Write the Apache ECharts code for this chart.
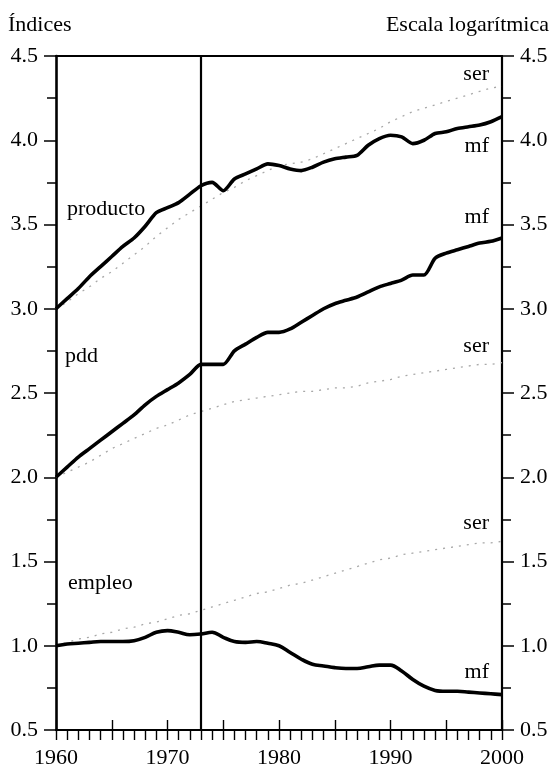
<!DOCTYPE html>
<html><head><meta charset="utf-8">
<script src="https://cdn.jsdelivr.net/npm/echarts@6/dist/echarts.min.js"></script>
<style>html,body{margin:0;padding:0;background:#fff}#c{width:552px;height:769px}</style>
</head><body><div id="c"></div>
<script>
const years = [];
for (let y = 1960; y <= 2000; y++) years.push(y);
const yTicks = [0.5, 1.0, 1.5, 2.0, 2.5, 3.0, 3.5, 4.0, 4.5];
const xTickLabels = [1960, 1970, 1980, 1990, 2000];

const productoMf = [3.00,3.06,3.12,3.19,3.25,3.31,3.37,3.42,3.49,3.57,3.60,3.63,3.68,3.73,3.75,3.70,3.77,3.80,3.83,3.86,3.85,3.83,3.82,3.84,3.87,3.89,3.90,3.91,3.97,4.01,4.03,4.02,3.98,4.00,4.04,4.05,4.07,4.08,4.09,4.11,4.14];
const productoSer = [3.00,3.04,3.09,3.13,3.18,3.22,3.27,3.32,3.37,3.43,3.48,3.53,3.57,3.61,3.65,3.69,3.72,3.76,3.79,3.82,3.85,3.86,3.87,3.89,3.92,3.95,3.98,4.01,4.04,4.07,4.11,4.14,4.17,4.19,4.21,4.23,4.25,4.27,4.29,4.31,4.32];
const pddMf = [2.00,2.06,2.12,2.17,2.22,2.27,2.32,2.37,2.43,2.48,2.52,2.56,2.61,2.67,2.67,2.67,2.75,2.79,2.83,2.86,2.86,2.88,2.92,2.96,3.00,3.03,3.05,3.07,3.10,3.13,3.15,3.17,3.20,3.20,3.30,3.33,3.35,3.37,3.39,3.40,3.42];
const pddSer = [2.00,2.03,2.06,2.09,2.13,2.17,2.20,2.23,2.26,2.29,2.31,2.34,2.37,2.39,2.41,2.43,2.45,2.46,2.47,2.48,2.49,2.50,2.51,2.51,2.52,2.53,2.53,2.54,2.56,2.57,2.58,2.60,2.61,2.62,2.63,2.64,2.65,2.66,2.67,2.67,2.68];
const empleoMf = [1.00,1.01,1.015,1.02,1.025,1.025,1.025,1.03,1.05,1.08,1.09,1.08,1.065,1.07,1.08,1.05,1.025,1.02,1.025,1.015,1.00,0.96,0.92,0.89,0.88,0.87,0.865,0.865,0.875,0.885,0.885,0.85,0.80,0.76,0.735,0.73,0.73,0.725,0.72,0.715,0.71];
const empleoSer = [1.00,1.02,1.04,1.05,1.07,1.08,1.10,1.11,1.13,1.14,1.16,1.18,1.19,1.21,1.23,1.25,1.27,1.29,1.31,1.32,1.34,1.36,1.37,1.39,1.41,1.43,1.45,1.47,1.49,1.51,1.52,1.54,1.55,1.56,1.57,1.58,1.59,1.60,1.61,1.61,1.62];
const breakYear = 1973;

const FONT = '"Liberation Serif", "DejaVu Serif", serif';
const FS = 22;
const pair = arr => years.map((y, i) => [y, arr[i]]);

const mfStyle = { color: '#000', width: 3.6 };
const serStyle = { color: '#a8a8a8', width: 1.3, type: [2, 6] };

function line(name, arr, style, smooth) {
  return { name, type: 'line', data: pair(arr), showSymbol: false, smooth: smooth, lineStyle: style, silent: true, z: style.width > 2 ? 3 : 2 };
}

const yAxisBase = {
  type: 'value', min: 0.5, max: 4.5, interval: 0.5,
  axisLine: { show: true, lineStyle: { color: '#000', width: 2.2 } },
  axisTick: { show: true, inside: false, length: 12, lineStyle: { color: '#000', width: 1.5 } },
  minorTick: { show: true, splitNumber: 2, length: 9, lineStyle: { color: '#000', width: 1.5 } },
  splitLine: { show: false },
  axisLabel: { fontFamily: FONT, fontSize: FS, color: '#000', margin: 18, formatter: v => yTicks.includes(+v.toFixed(2)) ? v.toFixed(1) : '' }
};

const chart = echarts.init(document.getElementById('c'), null, { renderer: 'canvas' });
const txt = (text, x, y, align) => ({ type: 'text', x, y, style: { text, font: FS + 'px ' + FONT, fill: '#000', align: align || 'left', verticalAlign: 'middle' } });
chart.setOption({
  animation: false,
  backgroundColor: '#fff',
  grid: { left: 56, right: 50, top: 56, bottom: 37, containLabel: false },
  xAxis: [
    {
      type: 'value', min: 1960, max: 2000, interval: 5, position: 'bottom',
      axisLine: { show: true, lineStyle: { color: '#000', width: 2 } },
      axisTick: { show: true, inside: false, length: 10, lineStyle: { color: '#000', width: 1.4 } },
      minorTick: { show: true, splitNumber: 5, length: 10, lineStyle: { color: '#000', width: 1.4 } },
      splitLine: { show: false },
      axisLabel: { fontFamily: FONT, fontSize: FS, color: '#000', margin: 17, formatter: v => xTickLabels.includes(v) ? String(v) : '' }
    },
    {
      type: 'value', min: 1960, max: 2000, interval: 5, position: 'bottom',
      axisLine: { show: false },
      axisTick: { show: true, inside: true, length: 10, lineStyle: { color: '#000', width: 1.4 } },
      axisLabel: { show: false }, splitLine: { show: false }
    },
    {
      type: 'value', min: 1960, max: 2000, position: 'top',
      axisLine: { show: true, lineStyle: { color: '#000', width: 2.2 } },
      axisTick: { show: false }, axisLabel: { show: false }, splitLine: { show: false }
    }
  ],
  yAxis: [
    Object.assign({}, yAxisBase, { position: 'left', axisLine: { show: true, lineStyle: { color: '#000', width: 2.6 } } }),
    Object.assign({}, yAxisBase, { position: 'right' })
  ],
  series: [
    line('producto ser', productoSer, serStyle, false),
    line('pdd ser', pddSer, serStyle, false),
    line('empleo ser', empleoSer, serStyle, false),
    line('producto mf', productoMf, mfStyle, 0.25),
    line('pdd mf', pddMf, mfStyle, 0.25),
    Object.assign(line('empleo mf', empleoMf, mfStyle, 0.35), {
      markLine: {
        silent: true, symbol: ['none', 'none'], label: { show: false },
        lineStyle: { color: '#000', width: 2.2, type: 'solid' },
        data: [{ xAxis: breakYear }]
      }
    })
  ],
  graphic: [
    txt('Índices', 8, 25),
    txt('Escala logarítmica', 549, 25, 'right'),
    txt('producto', 67, 209),
    txt('pdd', 65, 356),
    txt('empleo', 68, 583),
    txt('ser', 489, 74, 'right'),
    txt('mf', 489, 146, 'right'),
    txt('mf', 489, 217, 'right'),
    txt('ser', 489, 346, 'right'),
    txt('ser', 489, 523, 'right'),
    txt('mf', 489, 672, 'right')
  ]
});
</script></body></html>
